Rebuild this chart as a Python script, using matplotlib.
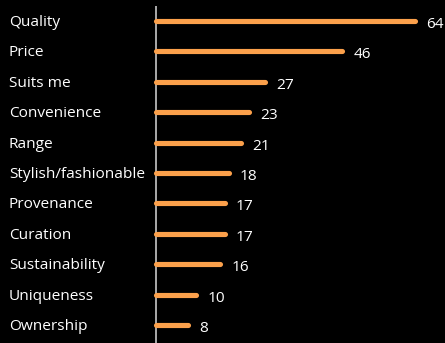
import matplotlib
matplotlib.use("Agg")
import matplotlib.pyplot as plt

categories = ["Quality", "Price", "Suits me", "Convenience", "Range",
              "Stylish/fashionable", "Provenance", "Curation",
              "Sustainability", "Uniqueness", "Ownership"]
values = [64, 46, 27, 23, 21, 18, 17, 17, 16, 10, 8]

W, H, DPI = 445, 343, 100
BAR_COLOR = "#FBA04B"
FONT = "Open Sans"
FS = 11.1

fig = plt.figure(figsize=(W / DPI, H / DPI), dpi=DPI, facecolor="black")
ax = fig.add_axes([0, 0, 1, 1])
ax.set_facecolor("black")
ax.axis("off")

# pixel layout: zero line at x=155.5, ~4.06 px per unit; rows 30.4 px apart from y=21
x0, ppu = 155.5, 4.06
y0, step = 21.0, 30.4
ax.set_xlim(-x0 / ppu, (W - x0) / ppu)
ax.set_ylim((H - y0) / step, -y0 / step)

ys = list(range(len(categories)))

# baseline
ax.plot([0, 0], [(6 - y0) / step, (H - y0) / step + 1], color="#d8d8d8",
        lw=1.1, solid_capstyle="butt", zorder=1)

lc = ax.hlines(ys, 0, values, color=BAR_COLOR, lw=3.7, zorder=2)
lc.set_capstyle("round")

for y, cat, v in zip(ys, categories, values):
    ax.annotate(cat, (9 / W, y), xycoords=ax.get_yaxis_transform(),
                xytext=(0, -5), textcoords="offset pixels",
                color="white", fontsize=FS, family=FONT,
                va="baseline", ha="left")
    ax.annotate(str(v), (v, y), xytext=(11, -7), textcoords="offset pixels",
                color="white", fontsize=FS, family=FONT,
                va="baseline", ha="left")

fig.savefig("out.png", dpi=DPI, facecolor="black")
